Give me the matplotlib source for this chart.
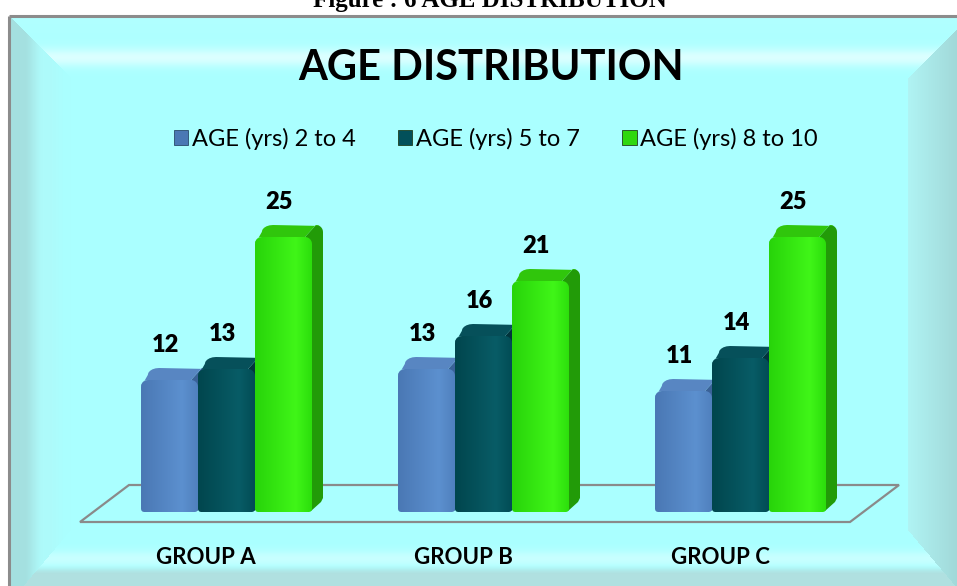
import numpy as np
import matplotlib
matplotlib.use("Agg")
import matplotlib.pyplot as plt
from matplotlib.patches import Polygon, Patch

# ---------------- data ----------------
groups = ["GROUP A", "GROUP B", "GROUP C"]
series = ["AGE (yrs) 2 to 4", "AGE (yrs) 5 to 7", "AGE (yrs) 8 to 10"]
age_2_4 = [12, 13, 11]
age_5_7 = [13, 16, 14]
age_8_10 = [25, 21, 25]
values = [age_2_4, age_5_7, age_8_10]

title = "AGE DISTRIBUTION"
caption = "Figure : 6 AGE DISTRIBUTION"

# ---------------- styles ----------------
front_cols = [
    [(74, 120, 180), (92, 144, 207), (80, 128, 190)],
    [(1, 70, 78), (8, 92, 102), (2, 76, 85)],
    [(40, 212, 10), (64, 246, 24), (44, 222, 12)],
]
side_cols = [(58, 98, 152), (1, 52, 60), (34, 155, 8)]
top_cols = [(88, 134, 194), (6, 80, 90), (48, 198, 12)]
legend_cols = ["#4a78b4", "#02505a", "#2ed80e"]

W, H = 957, 586
DPI = 100
fig = plt.figure(figsize=(W / DPI, H / DPI), dpi=DPI)
fig.patch.set_facecolor("white")

# ---------------- background frame (decoration) ----------------
bg = fig.add_axes([0, 0, 1, 1])
bg.set_xlim(0, W)
bg.set_ylim(H, 0)
bg.axis("off")

yy, xx = np.mgrid[0:H, 0:W].astype(float)
cyan = np.array([170, 255, 255]) / 255.0
img = np.ones((H, W, 3))
B = 62.0
dl = xx - 9
dt = yy - 16
dr = 969 - xx
db = 602 - yy
stack = np.stack([dl, dt * 1.0, dr, db * 0.85])
reg = np.argmin(stack, axis=0)
mn = np.min(stack, axis=0)
inside = (xx >= 10) & (yy >= 17)

col = np.broadcast_to(cyan, (H, W, 3)).copy()


def smooth(a, b, x):
    t = np.clip((x - a) / (b - a), 0, 1)
    return t * t * (3 - 2 * t)

# top band
h = 0.08 * (1 - np.clip(dt / B, 0, 1)) + 0.55 * np.exp(-((dt - 41) / 9.0) ** 2)
top_c = cyan[None, None, :] + (1 - cyan[None, None, :]) * h[..., None]
# left band
edge = np.array([164, 224, 224]) / 255.0
mid = np.array([174, 250, 250]) / 255.0
t = smooth(14, 34, dl)[..., None]
left_c = edge * (1 - t) + mid * t
t2 = smooth(34, 62, dl)[..., None]
left_c = left_c * (1 - t2) + cyan * t2
# right band
rc0 = np.array([176, 244, 244]) / 255.0
rc1 = np.array([158, 210, 210]) / 255.0
tr = np.clip(dr / B, 0, 1)[..., None]
right_c = rc1 * (1 - tr) + rc0 * tr
# bottom band
bl = 0.35 * np.exp(-((yy - 558) / 8.0) ** 2)
bot_c = cyan + (1 - cyan) * bl[..., None]
dark = smooth(564, 574, yy)[..., None]
bot_c = bot_c * (1 - dark) + (np.array([176, 224, 224]) / 255.0) * dark

band = mn < B
for k, cc in enumerate([left_c, top_c, right_c, bot_c]):
    m = band & (reg == k)
    col[m] = cc[m]
img[inside] = col[inside]
bg.imshow(img, extent=(0, W, H, 0), interpolation="bilinear", zorder=0)

# frame border lines
bg.plot([9, W], [16, 16], color="#8c8c8c", lw=2.2, solid_capstyle="butt", zorder=1)
bg.plot([9, 9], [16, H], color="#8c8c8c", lw=2.2, solid_capstyle="butt", zorder=1)

# floor parallelogram
bg.add_patch(Polygon([[80, 522], [129, 485], [899, 485], [850, 522]], closed=True,
                     fill=False, edgecolor="#8a8a8a", lw=1.6, zorder=1))

# caption (cut by top edge, as in the reference)
bg.text(490, 7.5, caption, ha="center", va="baseline", fontsize=18,
        fontweight="bold", family=["Liberation Serif", "DejaVu Serif"], color="black", zorder=2)

# title
bg.text(491, 68, title, ha="center", va="center", fontsize=30, fontweight="bold",
        family=["Lato", "DejaVu Sans"], color="black", zorder=2)

# ---------------- chart axes ----------------
L, R, T, Bt = 60, 920, 150, 540
ax = fig.add_axes([L / W, (H - Bt) / H, (R - L) / W, (Bt - T) / H])
ax.patch.set_alpha(0)
ax.axis("off")
gx = np.arange(len(groups), dtype=float)
unit_px = 257.0
x0_px = 226.5
yscale = 11.0
y0_px = 512.0
ax.set_xlim((L - x0_px) / unit_px, (R - x0_px) / unit_px)
ax.set_ylim((y0_px - Bt) / yscale, (y0_px - T) / yscale)
bw = 57.0 / unit_px

to_disp = ax.transData
to_data = ax.transData.inverted()

DX, DY = 11.0, 12.0
rr = 7.0


def arc(cx, cy, rx, ry, a0, a1, n=8):
    a = np.linspace(np.radians(a0), np.radians(a1), n)
    return [(cx + rx * np.cos(t), cy + ry * np.sin(t)) for t in a]


for si in range(3):
    offs = (si - 1.5) * bw
    rects = ax.bar(gx + offs, values[si], width=bw, align="edge", color="none",
                   edgecolor="none", zorder=1)
    for gi, rect in enumerate(rects):
        v = values[si][gi]
        xa, ya = rect.get_x(), rect.get_y()
        xb, yb2 = xa + rect.get_width(), ya + rect.get_height()
        (px0, pyb), (px1, pyt) = to_disp.transform([(xa, ya), (xb, yb2)])
        z = 3 + si * 0.5
        # side face
        side = [(px1 - 1, pyb + 1), (px1 + DX - 2, pyb + DY - 2), (px1 + DX, pyb + DY + 2),
                (px1 + DX, pyt + DY - rr)]
        side += arc(px1 + DX - rr, pyt + DY - rr, rr, rr, 0, 90)
        side += [(px1 - rr, pyt), (px1 - 1, pyt - rr)]
        ax.add_patch(Polygon(to_data.transform(side), closed=True,
                             facecolor=np.array(side_cols[si]) / 255, edgecolor="none", zorder=z))
        # top cap
        cap = arc(px0 + rr, pyt - rr, rr, rr, 180, 90)
        cap += [(px1 - rr, pyt)]
        cap += arc(px1 + DX - rr, pyt + DY - rr, rr, rr, 90, 60, 3)
        cap += [(px0 + DX + rr, pyt + DY)]
        cap += arc(px0 + DX + rr, pyt + DY - rr, rr * 1.6, rr, 90, 180, 6)
        ax.add_patch(Polygon(to_data.transform(cap), closed=True,
                             facecolor=np.array(top_cols[si]) / 255, edgecolor="none", zorder=z + 0.1))
        # front face
        fr = [(px0 + 3, pyb), (px1 - 3, pyb)]
        fr += arc(px1 - 3, pyb + 3, 3, 3, -90, 0, 4)
        fr += arc(px1 - rr, pyt - rr, rr, rr, 0, 90)
        fr += arc(px0 + rr, pyt - rr, rr, rr, 90, 180)
        fr += arc(px0 + 3, pyb + 3, 3, 3, 180, 270, 4)
        fpoly = Polygon(to_data.transform(fr), closed=True, facecolor="none",
                        edgecolor="none", zorder=z + 0.2)
        ax.add_patch(fpoly)
        c = np.array(front_cols[si]) / 255.0
        n = 64
        tt = np.linspace(0, 1, n)
        grad = np.zeros((1, n, 3))
        for k in range(3):
            grad[0, :, k] = np.interp(tt, [0, 0.72, 1], [c[0][k], c[1][k], c[2][k]])
        im = ax.imshow(grad, extent=(xa, xb, ya, yb2 + rr / yscale), aspect="auto",
                       interpolation="bilinear", zorder=z + 0.2)
        im.set_clip_path(fpoly)
        # value label
        ax.annotate(str(v), xy=(xa + bw / 2, v), xytext=(-3, 25), textcoords="offset points",
                    ha="center", va="center", fontsize=17, fontweight="heavy",
                    family=["Lato", "DejaVu Sans"], color="black", zorder=10)

ax.set_xlim((L - x0_px) / unit_px, (R - x0_px) / unit_px)
ax.set_ylim((y0_px - Bt) / yscale, (y0_px - T) / yscale)
ax.set_aspect("auto")

# group labels
for gi, g in enumerate(groups):
    ax.annotate(g, xy=(gx[gi], 0), xytext=(-14.5, -32.5), textcoords="offset points",
                ha="center", va="center", fontsize=16, fontweight="bold",
                family=["Lato", "DejaVu Sans"], color="black")

# legend
handles = [Patch(facecolor=legend_cols[i], edgecolor="#2a4a6a" if i == 0 else "#1f3f1f",
                 linewidth=0.6, label=series[i]) for i in range(3)]
leg = fig.legend(handles=handles, loc="center", bbox_to_anchor=(496 / W, 1 - 139 / H),
                 ncol=3, frameon=False, handlelength=0.6, handleheight=0.6,
                 handletextpad=0.15, columnspacing=1.8,
                 prop={"family": ["Lato", "DejaVu Sans"], "size": 17})

fig.savefig("out.png", dpi=DPI)
